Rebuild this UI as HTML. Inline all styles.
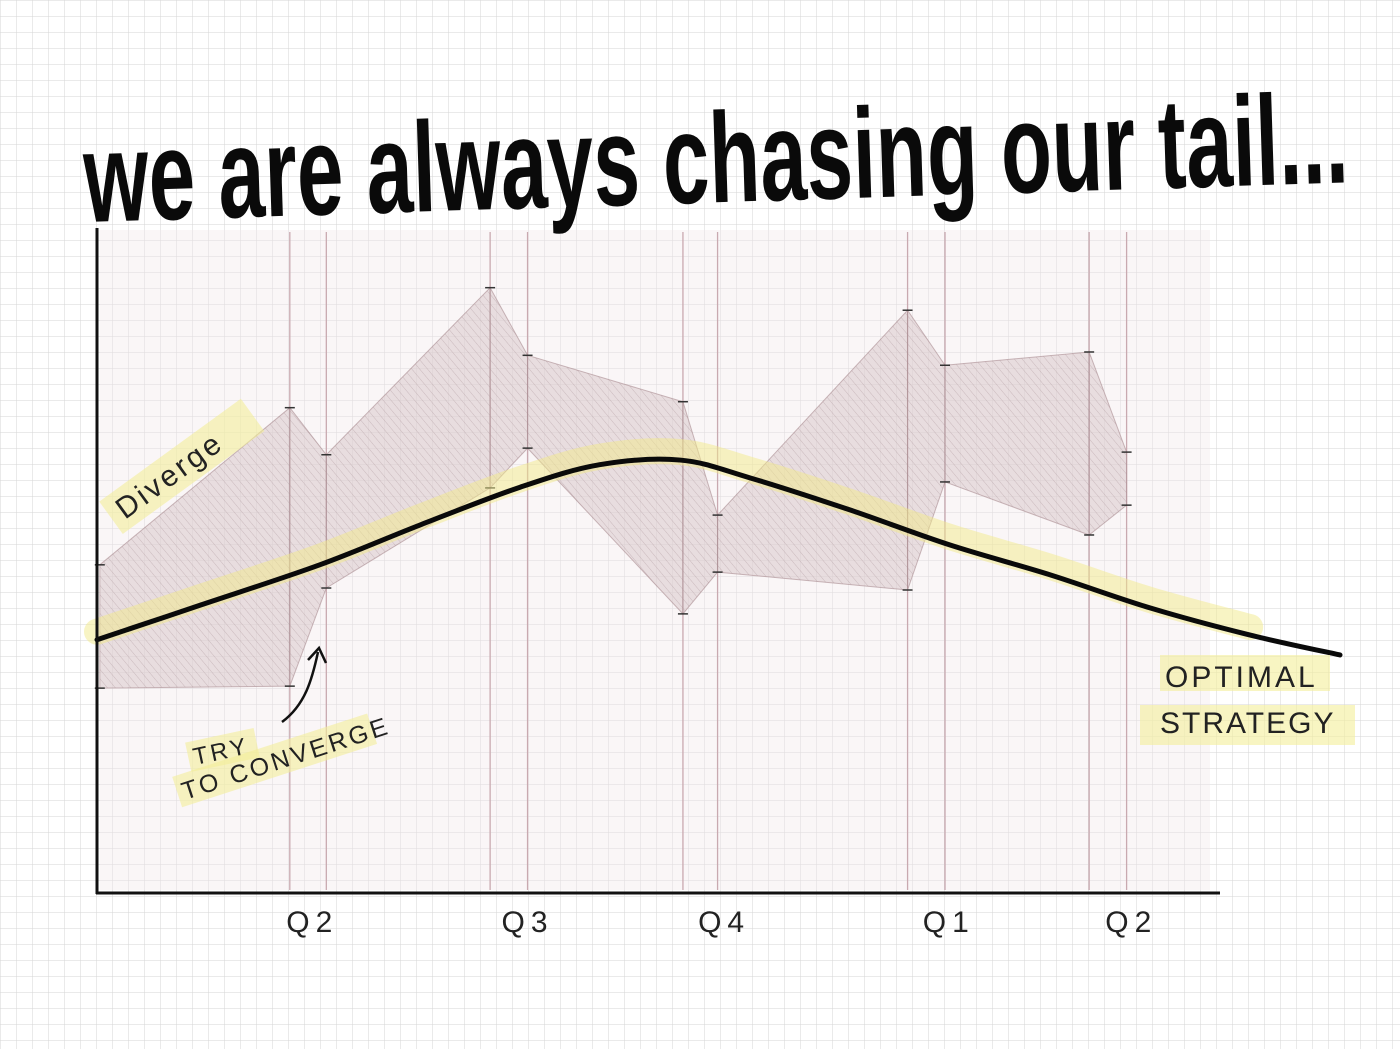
<!DOCTYPE html>
<html><head><meta charset="utf-8">
<style>
html,body{margin:0;padding:0;background:#fff;}
svg{display:block;}
</style></head>
<body>
<svg id="chart" width="1400" height="1049" viewBox="0 0 1400 1049" xmlns="http://www.w3.org/2000/svg">
<defs>
<pattern id="grid" width="16" height="16" patternUnits="userSpaceOnUse">
<path d="M16 0 L0 0 0 16" fill="none" stroke="#d6d6d6" stroke-width="1"/>
</pattern>
<pattern id="hatch" width="6" height="6" patternUnits="userSpaceOnUse" patternTransform="rotate(-40)">
<rect width="6" height="6" fill="#d8c8cb" fill-opacity="0.55"/>
<line x1="0" y1="0" x2="0" y2="6" stroke="#b09a9e" stroke-width="1" stroke-opacity="0.55"/>
</pattern>
</defs>
<rect width="1400" height="1049" fill="url(#grid)"/>
<rect x="100" y="230" width="1110" height="660" fill="#f1e6e9" fill-opacity="0.35"/>
<g id="verticals"></g>
<g id="band"></g>
<g id="optimal"></g>
<line x1="97" y1="228" x2="97" y2="894" stroke="#111" stroke-width="3"/>
<line x1="96" y1="893" x2="1220" y2="893" stroke="#111" stroke-width="3"/>
<g id="xlabels"></g>
<text x="85" y="222" transform="rotate(-1.8 85 222)" font-family="'Liberation Sans Narrow','Liberation Sans',sans-serif" font-weight="bold" font-size="128" textLength="1265" lengthAdjust="spacingAndGlyphs" fill="#0a0a0a">we are always chasing our tail...</text>
<g transform="translate(125 520) rotate(-36)">
<rect x="-10" y="-30" width="175" height="40" fill="#f4ef9a" opacity="0.6"/>
<text x="0" y="0" font-family="'Liberation Sans',sans-serif" font-size="30" fill="#222" letter-spacing="3">Diverge</text>
</g>
<g>
<g transform="translate(195 765) rotate(-12)"><rect x="-5" y="-24" width="70" height="30" fill="#f4ef9a" opacity="0.6"/><text x="0" y="0" font-family="'Liberation Sans',sans-serif" font-size="24" fill="#222" letter-spacing="3">TRY</text></g>
<g transform="translate(185 800) rotate(-18)"><rect x="-5" y="-26" width="205" height="32" fill="#f4ef9a" opacity="0.6"/><text x="0" y="0" font-family="'Liberation Sans',sans-serif" font-size="25" fill="#222" letter-spacing="3">TO CONVERGE</text></g>
<path d="M282 722 C305 705 312 680 318 652" fill="none" stroke="#111" stroke-width="2.5"/>
<path d="M308 660 L319 648 L326 663" fill="none" stroke="#111" stroke-width="2.5"/>
</g>
<g>
<rect x="1160" y="655" width="170" height="36" fill="#f4ef9a" opacity="0.6"/>
<rect x="1140" y="705" width="215" height="40" fill="#f4ef9a" opacity="0.6"/>
<text x="1165" y="687" font-family="'Liberation Sans',sans-serif" font-size="30" fill="#222" letter-spacing="3">OPTIMAL</text>
<text x="1160" y="733" font-family="'Liberation Sans',sans-serif" font-size="30" fill="#222" letter-spacing="2">STRATEGY</text>
</g>
</svg>
<script>
const bandX = [0.03, 2.06, 2.45, 4.2, 4.6, 6.26, 6.63, 8.66, 9.06, 10.6, 11.0];
const bandTop = [49.5, 73.2, 66.1, 91.3, 81.1, 74.1, 57.0, 87.9, 79.6, 81.6, 66.5];
const bandBottom = [30.9, 31.2, 46.0, 61.1, 67.1, 42.1, 48.4, 45.7, 62.0, 54.0, 58.5];
const optimalX = [0, 1.1, 2.38, 3.45, 4.52, 5.37, 6.23, 6.98, 8.04, 9.11, 10.18, 11.25, 12.32, 13.28];
const optimalY = [38.2, 43.4, 49.5, 55.5, 61.2, 64.6, 65.3, 62.6, 57.8, 52.5, 48.0, 43.0, 38.9, 35.9];
const quarterLabels = ["Q2", "Q3", "Q4", "Q1", "Q2"];
const quarterLabelX = [2.3, 4.6, 6.7, 9.1, 11.05];

const NS = "http://www.w3.org/2000/svg";
const xs = t => 97 + t * 93.6;
const ys = v => 893 - v * 6.63;
function mk(tag, attrs, parent){const e=document.createElementNS(NS,tag);for(const k in attrs)e.setAttribute(k,attrs[k]);parent.appendChild(e);return e;}

const vg = document.getElementById('verticals');
bandX.forEach((t,i)=>{ if(i===0) return;
  const l = mk('line',{x1:xs(t),y1:232,x2:xs(t),y2:890,stroke:'#c9a9b0','stroke-width':1.3},vg);
  
  
});

const bg = document.getElementById('band');
for(let i=0;i<bandX.length-1;i++){
  const pts=[[xs(bandX[i]),ys(bandTop[i])],[xs(bandX[i+1]),ys(bandTop[i+1])],[xs(bandX[i+1]),ys(bandBottom[i+1])],[xs(bandX[i]),ys(bandBottom[i])]];
  const p = mk('polygon',{points:pts.map(p=>p.join(',')).join(' '),fill:'url(#hatch)',stroke:'#a88a90','stroke-width':1,'stroke-opacity':0.6},bg);
  
  
}
bandX.forEach((t,i)=>{
  [bandTop[i],bandBottom[i]].forEach(v=>{
    const m = mk('line',{x1:xs(t)-5,y1:ys(v),x2:xs(t)+5,y2:ys(v),stroke:'#333','stroke-width':1.5},bg);
    
    
  });
});

const og = document.getElementById('optimal');
function smooth(px,py){
  let d=`M${px[0]},${py[0]}`;
  for(let i=0;i<px.length-1;i++){
    const x0=px[Math.max(i-1,0)],y0=py[Math.max(i-1,0)],x1=px[i],y1=py[i],x2=px[i+1],y2=py[i+1],x3=px[Math.min(i+2,px.length-1)],y3=py[Math.min(i+2,px.length-1)];
    d+=` C${x1+(x2-x0)/6},${y1+(y2-y0)/6} ${x2-(x3-x1)/6},${y2-(y3-y1)/6} ${x2},${y2}`;
  }
  return d;
}
const PX = optimalX.map(xs), PY = optimalY.map(ys);
const hl = mk('path',{d:smooth(PX.slice(0,-1),PY.slice(0,-1).map(y=>y-8)),fill:'none',stroke:'#f1ea8a','stroke-width':26,'stroke-opacity':0.5,'stroke-linecap':'round'},og);


const ol = mk('path',{d:smooth(PX,PY),fill:'none',stroke:'#0a0a0a','stroke-width':5,'stroke-linecap':'round','stroke-linejoin':'round'},og);



const xl = document.getElementById('xlabels');
quarterLabels.forEach((s,i)=>{
  const t = mk('text',{x:xs(quarterLabelX[i]),y:932,'text-anchor':'middle','font-family':"'Liberation Sans',sans-serif",'font-size':30,fill:'#222','letter-spacing':6},xl);
  t.textContent=s;
  
  
});
</script>
</body></html>
